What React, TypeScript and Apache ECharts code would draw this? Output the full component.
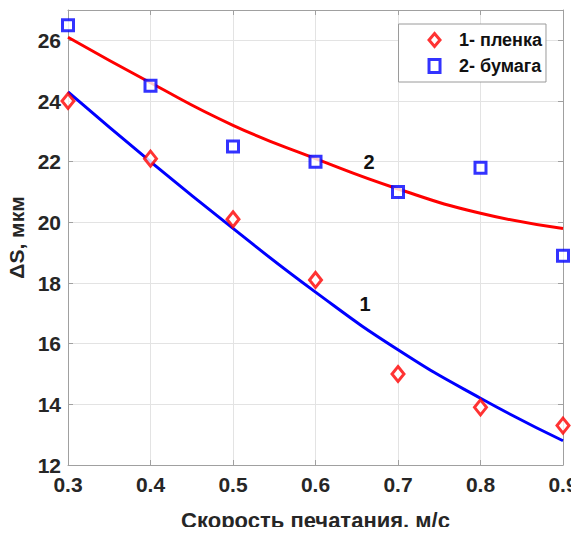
import React, { useEffect, useRef } from "react";
import * as echarts from "echarts";

const speeds = [0.3, 0.4, 0.5, 0.6, 0.7, 0.8, 0.9];
const film = [24.0, 22.1, 20.1, 18.1, 15.0, 13.9, 13.3];
const paper = [26.5, 24.5, 22.5, 22.0, 21.0, 21.8, 18.9];
const fitFilm = [24.3, 22.0, 19.8, 17.7, 15.8, 14.2, 12.8];
const fitPaper = [26.1, 24.6, 23.2, 22.1, 21.1, 20.3, 19.8];
const legendNames = ["1- пленка", "2- бумага"];
const curveLabels = [
  { text: "1", x: 0.66, y: 17.3 },
  { text: "2", x: 0.665, y: 22.0 },
];

const font = "'Liberation Sans', Arial, sans-serif";
const textColor = "#262626";

export default function App() {
  const ref = useRef<HTMLDivElement>(null);
  useEffect(() => {
    if (!ref.current) return;
    const chart = echarts.init(ref.current, null, { renderer: "svg" });
    const pair = (ys: number[]) => speeds.map((x, i) => [x, ys[i]]);
    const axisLine = { show: true, lineStyle: { color: "#a0a0a0", width: 1 } };
    const tick = { show: true, inside: true, length: 5, lineStyle: { color: "#a0a0a0" } };
    const labelStyle = { fontFamily: font, fontWeight: "bold", fontSize: 21, color: textColor };
    chart.setOption({
      animation: false,
      backgroundColor: "#fff",
      textStyle: { fontFamily: font },
      grid: { left: 68, right: 16, top: 10, bottom: 70, outerBoundsMode: "none", containLabel: false },
      legend: {
        data: [
          { name: legendNames[0], itemStyle: { color: "#fff", borderColor: "#ff0000", borderWidth: 3 } },
          { name: legendNames[1], itemStyle: { color: "#fff", borderColor: "#0000ff", borderWidth: 3 } },
        ],
        orient: "vertical",
        right: 33,
        top: 24,
        padding: [7, 4, 7, 29],
        itemGap: 8,
        itemWidth: 11,
        itemHeight: 13,
        backgroundColor: "#fff",
        borderColor: "#9a9a9a",
        borderWidth: 1,
        textStyle: {
          fontFamily: font,
          fontWeight: "bold",
          fontSize: 18,
          color: "#111",
          padding: [0, 0, 0, 14],
        },
      },
      xAxis: [
        {
          type: "value",
          min: 0.3,
          max: 0.9,
          interval: 0.1,
          name: "Скорость печатания, м/с",
          nameLocation: "middle",
          nameGap: 44,
          nameTextStyle: { fontFamily: font, fontWeight: "bold", fontSize: 22, color: textColor },
          axisLine,
          axisTick: tick,
          axisLabel: {
            ...labelStyle,
            margin: 9,
            formatter: (v: number) => v.toFixed(1),
          },
          splitLine: { show: true, lineStyle: { color: "#e3e3e3", width: 1 } },
        },
        {
          type: "value",
          position: "top",
          min: 0.3,
          max: 0.9,
          interval: 0.1,
          axisLine,
          axisTick: tick,
          axisLabel: { show: false },
          splitLine: { show: false },
        },
      ],
      yAxis: [
        {
          type: "value",
          min: 12,
          max: 27,
          interval: 2,
          name: "ΔS, мкм",
          nameLocation: "middle",
          nameGap: 33,
          nameTextStyle: { fontFamily: font, fontWeight: "bold", fontSize: 21, color: textColor },
          axisLine,
          axisTick: tick,
          axisLabel: {
            ...labelStyle,
            margin: 7,
            showMaxLabel: false,
          },
          splitLine: { show: true, lineStyle: { color: "#e3e3e3", width: 1 } },
        },
        {
          type: "value",
          position: "right",
          min: 12,
          max: 27,
          interval: 2,
          axisLine,
          axisTick: tick,
          axisLabel: { show: false },
          splitLine: { show: false },
        },
      ],
      series: [
        {
          name: "fitPaper",
          type: "line",
          data: pair(fitPaper),
          smooth: true,
          showSymbol: false,
          symbol: "none",
          lineStyle: { color: "#ff0000", width: 3 },
          z: 2,
          markPoint: {
            symbol: "circle",
            symbolSize: 0,
            label: { show: true, fontFamily: font, fontWeight: "bold", fontSize: 20, color: "#111" },
            data: [{ coord: [curveLabels[1].x, curveLabels[1].y], value: curveLabels[1].text }],
          },
        },
        {
          name: "fitFilm",
          type: "line",
          data: pair(fitFilm),
          smooth: true,
          showSymbol: false,
          symbol: "none",
          lineStyle: { color: "#0000ff", width: 3 },
          z: 2,
          markPoint: {
            symbol: "circle",
            symbolSize: 0,
            label: { show: true, fontFamily: font, fontWeight: "bold", fontSize: 20, color: "#111" },
            data: [{ coord: [curveLabels[0].x, curveLabels[0].y], value: curveLabels[0].text }],
          },
        },
        {
          name: legendNames[0],
          type: "scatter",
          data: pair(film),
          symbol: "diamond",
          symbolSize: [12, 15],
          clip: false,
          itemStyle: { color: "#fff", borderColor: "#ff0000", borderWidth: 3 },
          z: 3,
        },
        {
          name: legendNames[1],
          type: "scatter",
          data: pair(paper),
          symbol: "rect",
          symbolSize: 11,
          clip: false,
          itemStyle: { color: "#fff", borderColor: "#0000ff", borderWidth: 3 },
          z: 3,
        },
      ],
    });
    return () => chart.dispose();
  }, []);
  return <div ref={ref} style={{ width: 579, height: 535, margin: -8 }} />;
}
